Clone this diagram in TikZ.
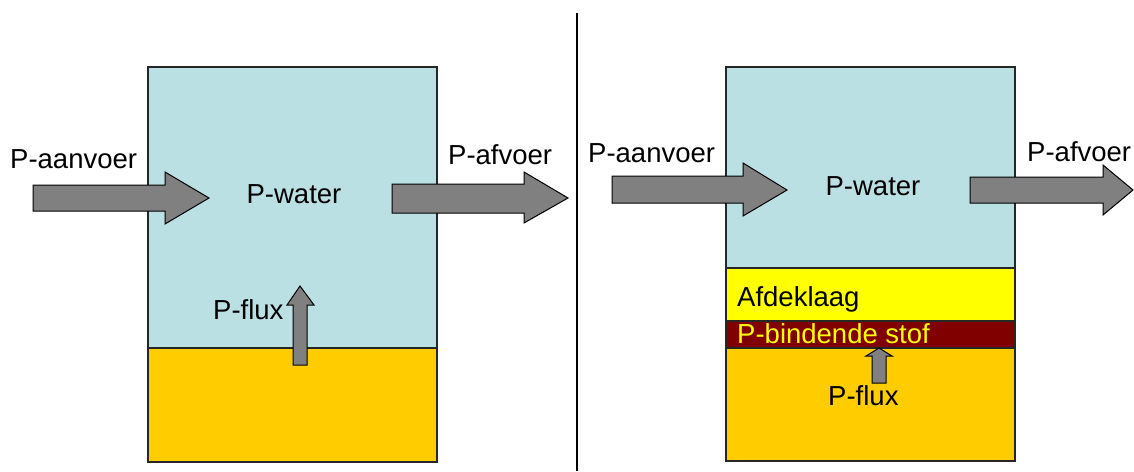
\documentclass[tikz,border=0pt]{standalone}
\usepackage{fontspec}
\setmainfont{Liberation Sans}
\definecolor{water}{HTML}{BBE0E3}
\definecolor{sediment}{HTML}{FFCC00}
\definecolor{cover}{HTML}{FFFF00}
\definecolor{binder}{HTML}{800000}
\definecolor{arrowgray}{HTML}{808080}
\tikzset{
  lbl/.style={inner sep=0pt, font=\fontsize{27.5}{32}\selectfont, text=black},
  layer/.style={draw=black!85, line width=1.3pt},
  fatarrow/.style={draw=black, fill=arrowgray, line width=1pt, line join=miter},
}
\begin{document}
\begin{tikzpicture}[x=1pt,y=-1pt]
\useasboundingbox (0,0) rectangle (1134,471);
% divider
\draw[line width=1.3pt] (577,13) -- (577,471);

% ---------- left panel ----------
\fill[water] (148,67) rectangle (437,348);
\fill[sediment] (148,348) rectangle (437,462);
\draw[layer] (148,348) -- (437,348);
\draw[layer] (148,67) rectangle (437,462);

% inflow arrow left
\draw[fatarrow] (33,185) -- (165,185) -- (165,172) -- (209,198) -- (165,224) -- (165,211) -- (33,211) -- cycle;
% outflow arrow left
\draw[fatarrow] (392,184) -- (524,184) -- (524,172) -- (568,198) -- (524,223) -- (524,213) -- (392,213) -- cycle;
% flux arrow left
\draw[fatarrow] (293,365) -- (293,305) -- (287,305) -- (300,286) -- (314,305) -- (307,305) -- (307,365) -- cycle;

\node[lbl, anchor=base west] (ainL) at (10,168) {P-aanvoer};
\node[lbl, anchor=base] (waterL) at (294,203) {P-water};
\node[lbl, anchor=base west] (afL) at (448,164) {P-afvoer};
\node[lbl, anchor=base west] (fluxL) at (213,319) {P-flux};

% ---------- right panel ----------
\fill[water] (726,67) rectangle (1015,268);
\fill[cover] (726,268) rectangle (1015,321);
\fill[binder] (726,321) rectangle (1015,348);
\fill[sediment] (726,348) rectangle (1015,461);
\draw[layer] (726,268) -- (1015,268);
\draw[layer] (726,321) -- (1015,321);
\draw[layer] (726,348) -- (1015,348);
\draw[layer] (726,67) rectangle (1015,461);

% inflow arrow right
\draw[fatarrow] (612,176) -- (743,176) -- (743,163) -- (787,190) -- (743,216) -- (743,203) -- (612,203) -- cycle;
% outflow arrow right
\draw[fatarrow] (970,177) -- (1103,177) -- (1103,165) -- (1133,190) -- (1103,215) -- (1103,203) -- (970,203) -- cycle;
% flux arrow right
\draw[fatarrow] (872,383) -- (872,356) -- (866,356) -- (879,348) -- (892,356) -- (886,356) -- (886,383) -- cycle;

\node[lbl, anchor=base west] (ainR) at (588,162) {P-aanvoer};
\node[lbl, anchor=base] (waterR) at (873,195) {P-water};
\node[lbl, anchor=base west] (afR) at (1027,161) {P-afvoer};
\node[lbl, anchor=base west] (coverlbl) at (737,306) {Afdeklaag};
\node[lbl, anchor=base west, text=cover] (binderlbl) at (737,343) {P-bindende stof};
\node[lbl, anchor=base west] (fluxR) at (828,405) {P-flux};
\end{tikzpicture}
\end{document}
